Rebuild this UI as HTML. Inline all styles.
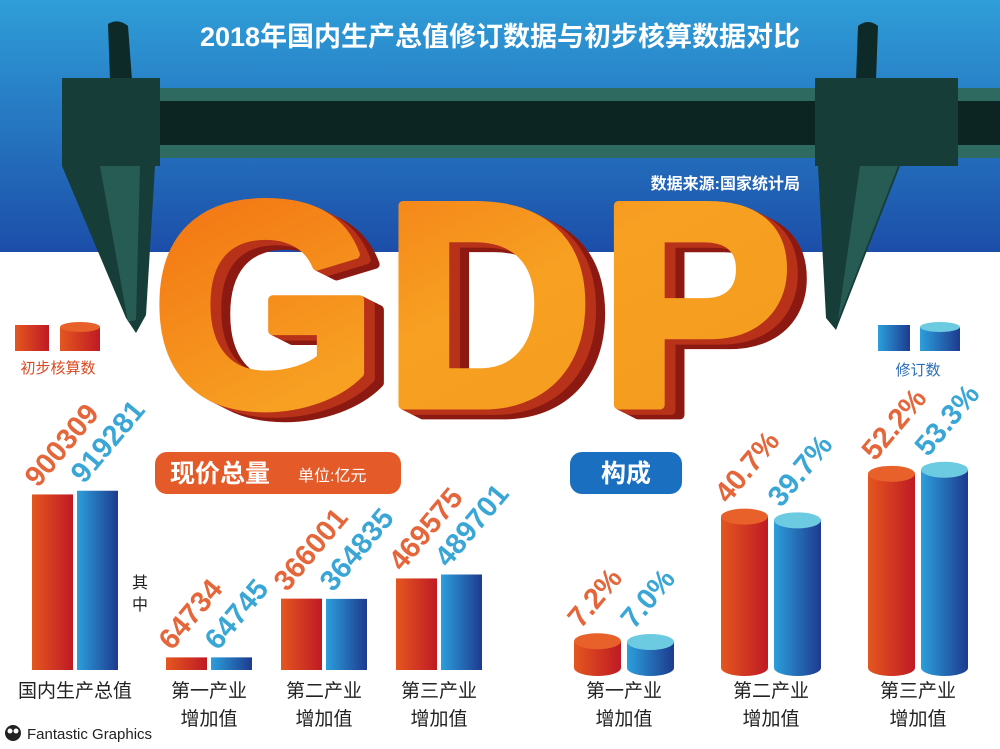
<!DOCTYPE html>
<html><head><meta charset="utf-8">
<style>
html,body{margin:0;padding:0;width:1000px;height:749px;overflow:hidden;background:#fff;}
svg{display:block;font-family:"Liberation Sans","Noto Sans CJK SC",sans-serif;}
.num{font-family:"Liberation Sans Narrow","Liberation Sans",sans-serif;font-weight:bold;font-size:29px;}
.cat{font-size:19px;fill:#222;}
</style></head><body>
<svg id="chart" width="1000" height="749" viewBox="0 0 1000 749">
<defs>
<linearGradient id="sky" x1="0" y1="0" x2="0" y2="1"><stop offset="0" stop-color="#2f9ed8"/><stop offset="1" stop-color="#1c4ea9"/></linearGradient>
<linearGradient id="og" x1="0" y1="0" x2="1" y2="0"><stop offset="0" stop-color="#e4571f"/><stop offset="1" stop-color="#bf1a24"/></linearGradient>
<linearGradient id="bg" x1="0" y1="0" x2="1" y2="0"><stop offset="0" stop-color="#2c9fdc"/><stop offset="1" stop-color="#1d3a8e"/></linearGradient>
<linearGradient id="face" x1="0" y1="0" x2="1" y2="1"><stop offset="0" stop-color="#f26a10"/><stop offset="0.5" stop-color="#f7a022"/><stop offset="1" stop-color="#f39a1c"/></linearGradient>
</defs>
<rect x="0" y="0" width="1000" height="252" fill="url(#sky)"/>
<g>
<path d="M108,24 Q118,18 128,26 L132,80 L110,80 Z" fill="#0d2a28"/>
<path d="M858,26 Q868,18 878,26 L876,80 L856,80 Z" fill="#0d2a28"/>
<rect x="62" y="88" width="938" height="70" fill="#2e6a60"/>
<rect x="62" y="101" width="938" height="44" fill="#0c2422"/>
<rect x="62" y="78" width="98" height="88" fill="#173d39"/>
<rect x="815" y="78" width="143" height="88" fill="#173d39"/>
<polygon points="62,166 155,166 146,315 136,333 126,318" fill="#173d39"/>
<polygon points="100,166 140,166 136,320 128,322" fill="#2e6a60" opacity="0.7"/>
<polygon points="818,166 900,166 836,330 826,318" fill="#173d39"/>
<polygon points="860,166 898,166 838,320" fill="#2e6a60" opacity="0.7"/>
</g>
<text x="500" y="46" text-anchor="middle" font-size="27" font-weight="bold" fill="#fff">2018年国内生产总值修订数据与初步核算数据对比</text>
<text x="800" y="189" text-anchor="end" font-size="16" fill="#fff" font-weight="bold">数据来源:国家统计局</text>
<g id="gdp"></g>
<g>
<rect x="15" y="325" width="34" height="26" fill="url(#og)"/>
<rect x="60" y="327" width="40" height="24" fill="url(#og)"/><ellipse cx="80" cy="327" rx="20" ry="5" fill="#e8602a"/>
<text x="58" y="373" text-anchor="middle" font-size="15" fill="#d84a22">初步核算数</text>
</g>
<g>
<rect x="878" y="325" width="32" height="26" fill="url(#bg)"/>
<rect x="920" y="327" width="40" height="24" fill="url(#bg)"/><ellipse cx="940" cy="327" rx="20" ry="5" fill="#6ccbe0"/>
<text x="918" y="375" text-anchor="middle" font-size="15" fill="#2a6cb8">修订数</text>
</g>
<g>
<rect x="155" y="452" width="246" height="42" rx="12" fill="#e45a28"/>
<text x="170" y="482" font-size="25" font-weight="bold" fill="#fff">现价总量</text>
<text x="298" y="481" font-size="16" fill="#fff">单位:亿元</text>
</g>
<g>
<rect x="570" y="452" width="112" height="42" rx="12" fill="#1a6fc0"/>
<text x="626" y="482" text-anchor="middle" font-size="25" font-weight="bold" fill="#fff">构成</text>
</g>
<text x="140" y="588" text-anchor="middle" font-size="16" fill="#222">其</text>
<text x="140" y="610" text-anchor="middle" font-size="16" fill="#222">中</text>
<g id="bars"></g>
<g id="cyls"></g>
<g>
<circle cx="13" cy="733" r="8" fill="#222"/><circle cx="10" cy="731" r="2.5" fill="#fff"/><circle cx="16" cy="731" r="2.5" fill="#fff"/>
<text x="27" y="739" font-size="15" fill="#222">Fantastic Graphics</text>
</g>
</svg>
<script>
const categories = ["国内生产总值", "第一产业|增加值", "第二产业|增加值", "第三产业|增加值"];
const initialValues = [900309, 64734, 366001, 469575];
const revisedValues = [919281, 64745, 364835, 489701];
const shareCategories = ["第一产业|增加值", "第二产业|增加值", "第三产业|增加值"];
const initialShares = [7.2, 40.7, 52.2];
const revisedShares = [7.0, 39.7, 53.3];
const shareLabelsInit = ["7.2%", "40.7%", "52.2%"];
const shareLabelsRev = ["7.0%", "39.7%", "53.3%"];

const NS = "http://www.w3.org/2000/svg";
function mk(tag, attrs, parent){const e=document.createElementNS(NS,tag);for(const k in attrs)e.setAttribute(k,attrs[k]);parent.appendChild(e);return e;}
// GDP 3D
const gdp=document.getElementById('gdp');
for(let i=22;i>=0;i--){
  const col=i===0?'url(#face)':(i>12?'#8c1a12':'#b8321a');
  const t=mk('text',{x:152+i*0.9,y:405+i*0.45,'font-size':290,'font-weight':'bold','letter-spacing':'6',fill:col,stroke:col,'stroke-width':9,'stroke-linejoin':'round'},gdp);
  t.textContent='GDP';
}
// value bars
const base=670, k=0.000195, bw=41;
const xCenter=i=>[75,209,324,439][i];
const y=v=>base-v*k;
const bars=document.getElementById('bars');
function label(x,yy,txt,color,parent){
  const t=mk('text',{x:x,y:yy,class:'num',fill:color,transform:`rotate(-50 ${x} ${yy})`},parent);
  t.textContent=txt;return t;
}
function catLabel(cx,txt,parent){
  const parts=txt.split('|');
  parts.forEach((p,j)=>{const t=mk('text',{x:cx,y:697+j*28,'text-anchor':'middle',class:'cat'},parent);t.textContent=p;
  
  });
}
categories.forEach((c,i)=>{
  const cx=xCenter(i);
  const r1=mk('rect',{x:cx-bw-2,y:y(initialValues[i]),width:bw,height:initialValues[i]*k,fill:'url(#og)'},bars);
  
  
  const r2=mk('rect',{x:cx+2,y:y(revisedValues[i]),width:bw,height:revisedValues[i]*k,fill:'url(#bg)'},bars);
  
  
  const l1=label(cx-bw+4,y(initialValues[i])-6,String(initialValues[i]),'#e4663a',bars);
  
  
  const l2=label(cx+9,y(revisedValues[i])-6,String(revisedValues[i]),'#3aa6d6',bars);
  
  
  catLabel(cx,c,bars);
});
// cylinders
const cbase=668, ck=3.72, cw=47;
const cxC=i=>[624,771,918][i];
const cy=p=>cbase-p*ck;
const cyls=document.getElementById('cyls');
function cyl(x,p,fill,topc,name){
  const g=mk('g',{},cyls);
  
  
  const t=cy(p);
  mk('rect',{x:x,y:t,width:cw,height:cbase-t,fill:fill},g);
  mk('ellipse',{cx:x+cw/2,cy:cbase,rx:cw/2,ry:8,fill:fill},g);
  mk('ellipse',{cx:x+cw/2,cy:t,rx:cw/2,ry:8,fill:topc},g);
}
shareCategories.forEach((c,i)=>{
  const cx=cxC(i);
  cyl(cx-cw-3,initialShares[i],'url(#og)','#e8602a','cylinder-initial');
  cyl(cx+3,revisedShares[i],'url(#bg)','#6ccbe0','cylinder-revised');
  const l1=label(cx-cw+4,cy(initialShares[i])-12,shareLabelsInit[i],'#e4663a',cyls);
  
  
  const l2=label(cx+10,cy(revisedShares[i])-12,shareLabelsRev[i],'#3aa6d6',cyls);
  
  
  catLabel(cx,c,cyls);
});
</script>
</body></html>
